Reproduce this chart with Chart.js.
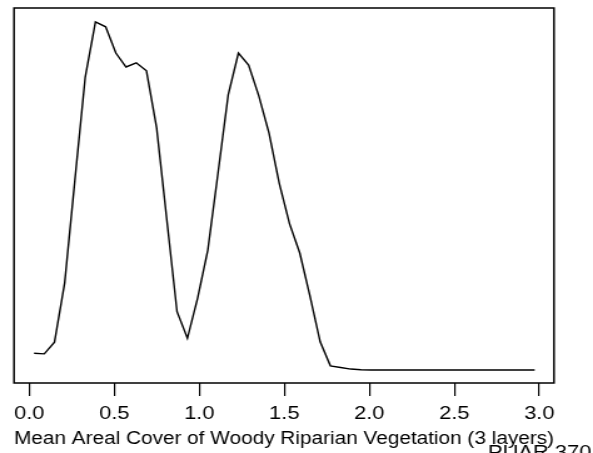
<!DOCTYPE html>
<html>
<head>
<meta charset="utf-8">
<script src="https://cdn.jsdelivr.net/npm/chart.js@4/dist/chart.umd.min.js"></script>
<style>
  html, body { margin: 0; padding: 0; background: #fff; overflow: hidden; }
  #c { display: block; transform: scaleX(1.2511); transform-origin: 0 0; }
</style>
</head>
<body>
<canvas id="c" width="474" height="453"></canvas>
<script>
// density curve
var xValues = [0.028, 0.088, 0.148, 0.208, 0.268, 0.329, 0.389, 0.449, 0.509, 0.569,
               0.629, 0.689, 0.749, 0.809, 0.869, 0.930, 0.990, 1.050, 1.110, 1.170,
               1.230, 1.290, 1.350, 1.410, 1.470, 1.531, 1.591, 1.651, 1.711, 1.771,
               1.831, 1.891, 1.951, 2.011, 2.071, 2.131, 2.192, 2.252, 2.312, 2.372,
               2.432, 2.492, 2.552, 2.612, 2.672, 2.733, 2.793, 2.853, 2.913, 2.973];
var density = [0.052, 0.050, 0.086, 0.269, 0.586, 0.904, 1.074, 1.059, 0.978, 0.935,
               0.948, 0.923, 0.747, 0.463, 0.180, 0.098, 0.222, 0.370, 0.608, 0.849,
               0.978, 0.941, 0.846, 0.731, 0.577, 0.451, 0.361, 0.228, 0.087, 0.013,
               0.008, 0.003, 0.001, 0.000, 0.000, 0.000, 0.000, 0.000, 0.000, 0.000,
               0.000, 0.000, 0.000, 0.000, 0.000, 0.000, 0.000, 0.000, 0.000, 0.000];
var xTicks = [0, 0.5, 1, 1.5, 2, 2.5, 3];
var xTitle = 'Mean Areal Cover of Woody Riparian Vegetation (3 layers)';
var cornerNote = 'PUAR 370';

var fontFam = '"Liberation Sans", Arial, Helvetica, sans-serif';

var points = [];
for (var i = 0; i < xValues.length; i++) {
    points.push({ x: xValues[i], y: density[i] });
}

// box round the plot + the clipped note in the corner
const framePlugin = {
    id: 'frame',
    afterDraw: function (chart) {
        const ctx = chart.ctx;
        const a = chart.chartArea;
        ctx.save();
        ctx.strokeStyle = '#000';
        ctx.lineWidth = 1.5;
        ctx.strokeRect(a.left, a.top, a.right - a.left, a.bottom - a.top);
        ctx.fillStyle = '#000';
        ctx.font = '17.5px ' + fontFam;
        ctx.textBaseline = 'alphabetic';
        ctx.fillText(cornerNote, 390, 458);
        ctx.restore();
    }
};

new Chart(document.getElementById('c'), {
    type: 'line',
    data: {
        datasets: [{
            data: points,
            borderColor: '#000',
            borderWidth: 1.4,
            pointRadius: 0,
            fill: false,
            tension: 0
        }]
    },
    options: {
        responsive: false,
        animation: false,
        events: [],
        layout: { padding: { left: 11.2, right: 31.2, top: 8, bottom: 0 } },
        plugins: {
            legend: { display: false },
            tooltip: { enabled: false }
        },
        scales: {
            x: {
                type: 'linear',
                min: -0.09,
                max: 3.0865,
                afterBuildTicks: function (s) {
                    s.ticks = xTicks.map(function (v) { return { value: v }; });
                },
                afterFit: function (s) { s.height = 70; },
                border: { display: false },
                grid: {
                    drawOnChartArea: false,
                    drawTicks: true,
                    tickLength: 13,
                    color: '#000',
                    lineWidth: 1.2
                },
                ticks: {
                    color: '#000',
                    padding: 8,
                    maxRotation: 0,
                    autoSkip: false,
                    font: { family: fontFam, size: 17.5 },
                    callback: function (v) { return Number(v).toFixed(1); }
                },
                title: {
                    display: true,
                    text: xTitle,
                    color: '#000',
                    padding: { top: 0, bottom: 3 },
                    font: { family: fontFam, size: 17.5 }
                }
            },
            y: {
                display: false,
                min: -0.040,
                max: 1.117
            }
        }
    },
    plugins: [framePlugin]
});
</script>
</body>
</html>
